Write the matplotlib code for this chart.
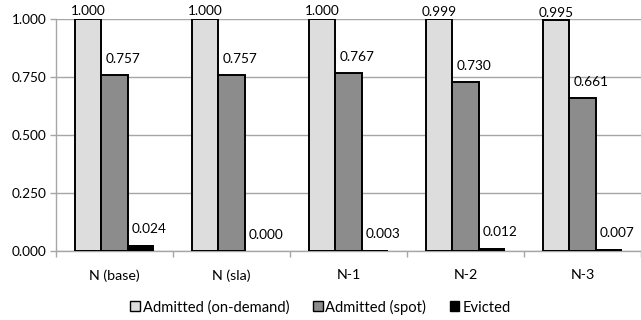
import numpy as np
import matplotlib
matplotlib.use("Agg")
import matplotlib.pyplot as plt
from matplotlib.patches import Patch

plt.rcParams['font.family'] = ['Lato', 'DejaVu Sans']

categories = ['N (base)', 'N (sla)', 'N-1', 'N-2', 'N-3']
series = ['Admitted (on-demand)', 'Admitted (spot)', 'Evicted']
on_demand = [1.000, 1.000, 1.000, 0.999, 0.995]
spot = [0.757, 0.757, 0.767, 0.730, 0.661]
evicted = [0.024, 0.000, 0.003, 0.012, 0.007]
colors = ['#dddddd', '#8c8c8c', '#000000']

fig = plt.figure(figsize=(6.41, 3.20), dpi=100)
ax = fig.add_axes([56 / 641, 1 - 251 / 320, 585 / 641, 232 / 320])

x = np.arange(len(categories))
w = 0.225
grid_c = '#a6a6a6'

for i, (vals, c) in enumerate(zip([on_demand, spot, evicted], colors)):
    pos = x + (i - 1) * w
    lw = 1.4 if i < 2 else 0
    ax.bar(pos, vals, w, color=c, edgecolor='black', linewidth=lw, zorder=3)
    for p, v in zip(pos, vals):
        if i == 0:
            off = (0, 5.5)
        else:
            off = (6, 11.5)
        ax.annotate(f'{v:.3f}', (p, v), xytext=off, textcoords='offset points',
                    ha='center', va='center', fontsize=9.8, color='black',
                    annotation_clip=False)

ax.set_xlim(-0.5, len(categories) - 0.5)
ax.set_ylim(0, 1.0)
ax.set_yticks([0, 0.25, 0.5, 0.75, 1.0])
ax.set_yticklabels([f'{t:.3f}' for t in [0, 0.25, 0.5, 0.75, 1.0]], fontsize=9.8)
ax.yaxis.grid(True, color=grid_c, linewidth=1, zorder=0)
ax.set_xticks(x)
ax.set_xticklabels(categories, fontsize=10.3)
ax.set_xticks(np.arange(-0.5, len(categories), 1.0), minor=True)
ax.tick_params(axis='x', which='major', length=0, pad=13)
ax.tick_params(axis='x', which='minor', length=4, color=grid_c, width=1)
ax.tick_params(axis='y', length=4, color=grid_c, width=1, pad=3)
for s in ['top', 'right']:
    ax.spines[s].set_visible(False)
for s in ['left', 'bottom']:
    ax.spines[s].set_color(grid_c)
    ax.spines[s].set_linewidth(1)
ax.set_axisbelow(True)

handles = [Patch(facecolor=c, edgecolor='black', linewidth=1) for c in colors]
fig.legend(handles, series, loc='center', bbox_to_anchor=(0.5, 1 - 307 / 320),
           ncol=3, frameon=False, fontsize=10.6, handlelength=0.65, handleheight=0.65,
           handletextpad=0.2, columnspacing=1.6)

fig.savefig('out.png', dpi=100)
